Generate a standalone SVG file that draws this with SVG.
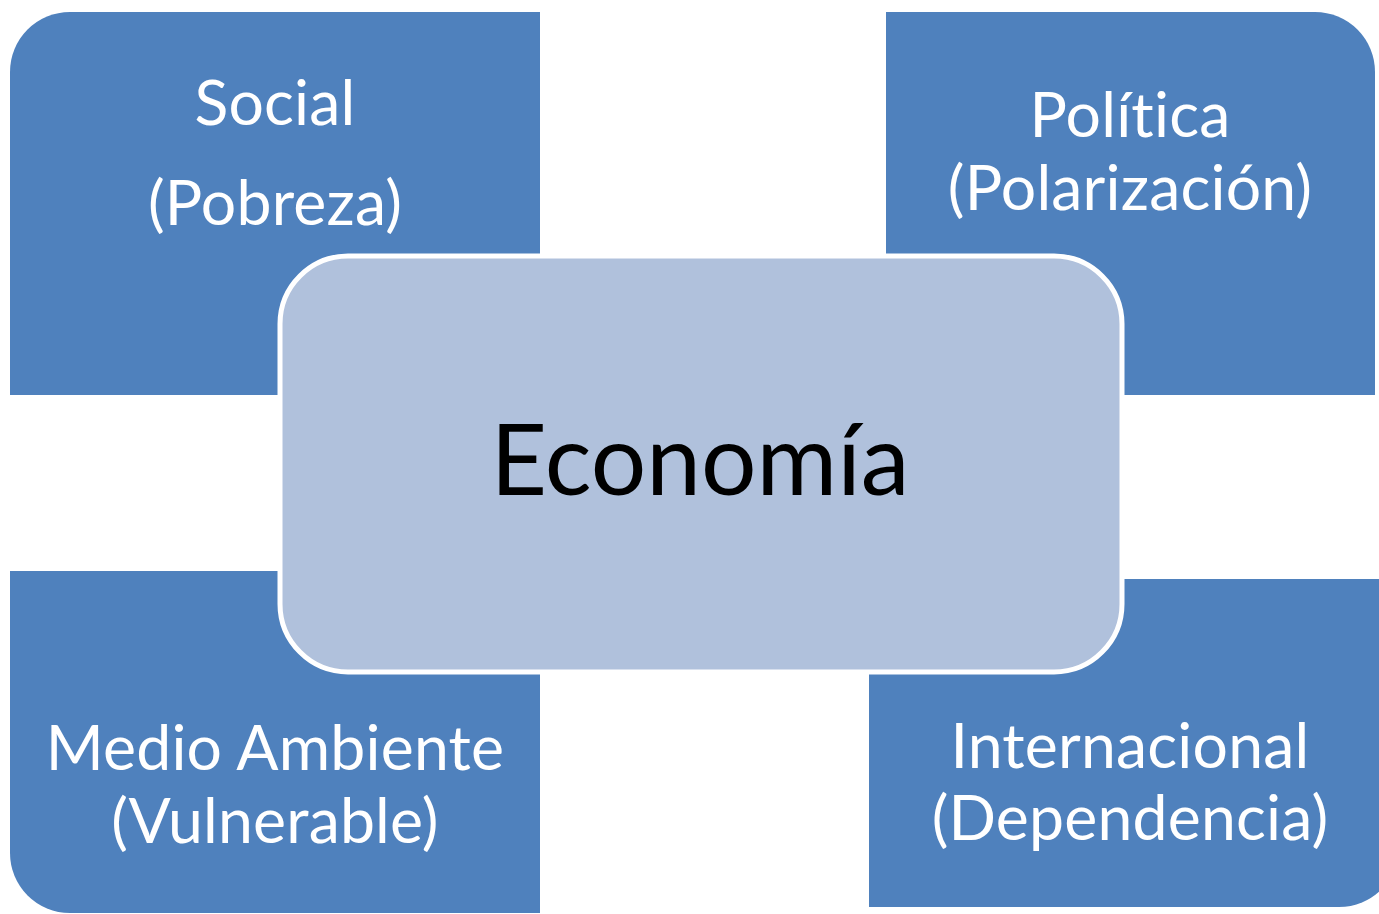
<svg xmlns="http://www.w3.org/2000/svg" width="1379" height="914" viewBox="0 0 1379 914">
<style>
.outer{fill:#4F81BD;}
.center{fill:#B0C1DC;stroke:#FFFFFF;stroke-width:5;}
.lbl{font-family:Lato,"Open Sans","Liberation Sans",sans-serif;font-size:62.5px;fill:#FFFFFF;text-anchor:middle;font-variant-ligatures:none;font-feature-settings:"liga" 0;letter-spacing:0.2px;}
.main{font-family:Lato,"Open Sans","Liberation Sans",sans-serif;font-size:98px;fill:#000000;text-anchor:middle;font-variant-ligatures:none;}
</style>
<rect width="1379" height="914" fill="#FFFFFF"/>
<g id="connectors"></g>
<g id="social">
<path class="outer" d="M10,72 A60,60 0 0 1 70,12 H540 V395 H10 Z"/>
<text class="lbl" x="275" y="125">Social</text>
<text class="lbl" x="275" y="225">(Pobreza)</text>
</g>
<g id="politica">
<path class="outer" d="M886,12 H1315 A60,60 0 0 1 1375,72 V395 H886 Z"/>
<text class="lbl" x="1130" y="137">Política</text>
<text class="lbl" x="1130" y="210">(Polarización)</text>
</g>
<g id="medio-ambiente">
<path class="outer" d="M10,571 H540 V913 H70 A60,60 0 0 1 10,853 Z"/>
<text class="lbl" x="275" y="770">Medio Ambiente</text>
<text class="lbl" x="275" y="843">(Vulnerable)</text>
</g>
<g id="internacional">
<path class="outer" d="M869,579 H1399 V847 A60,60 0 0 1 1339,907 H869 Z"/>
<text class="lbl" x="1130" y="768">Internacional</text>
<text class="lbl" x="1130" y="840">(Dependencia)</text>
</g>
<g id="economia">
<rect class="center" x="280" y="256" width="842" height="416" rx="68" ry="68"/>
<text class="main" x="700" y="495">Economía</text>
</g>
</svg>
